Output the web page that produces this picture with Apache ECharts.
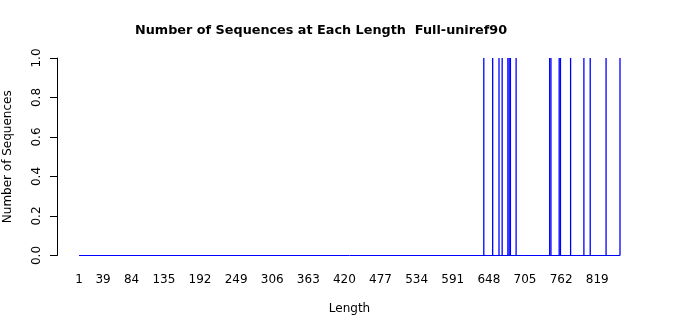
<!DOCTYPE html>
<html>
<head>
<meta charset="utf-8">
<script src="https://cdn.jsdelivr.net/npm/echarts@6/dist/echarts.min.js"></script>
<style>html,body{margin:0;padding:0;background:#fff}#c{width:700px;height:315px}</style>
</head>
<body>
<div id="c"></div>
<script>
// Data
var titleText = 'Number of Sequences at Each Length  Full-uniref90';
var minLength = 1;
var maxLength = 855;
var seqLengths = [640, 654, 664, 669, 678, 680, 682, 691, 744, 746, 759, 761, 777, 798, 808, 833, 855];
var seqCounts  = [1, 1, 1, 1, 1, 1, 1, 1, 1, 1, 1, 1, 1, 1, 1, 1, 1];
var xTickLabels = [1, 39, 84, 135, 192, 249, 306, 363, 420, 477, 534, 591, 648, 705, 762, 819];

var font = 'DejaVu Sans';
var chart = echarts.init(document.getElementById('c'), null, {renderer: 'canvas'});
var barData = seqLengths.map(function (l, i) { return [l, seqCounts[i]]; });
chart.setOption({
  animation: false,
  backgroundColor: '#ffffff',
  title: {
    text: titleText, left: 130, top: 19,
    textStyle: {fontFamily: font, fontWeight: 'bold', fontSize: 12.8, color: '#000'}
  },
  grid: {left: 79, right: 80, top: 58, bottom: 59.5, outerBoundsMode: 'none', containLabel: false},
  xAxis: {
    type: 'value', min: minLength, max: maxLength,
    name: 'Length', nameLocation: 'middle', nameGap: 47,
    nameTextStyle: {fontFamily: font, fontSize: 12, color: '#000'},
    axisLine: {show: false}, axisTick: {show: false}, splitLine: {show: false},
    axisLabel: {customValues: xTickLabels, margin: 18, fontFamily: font, fontSize: 12, color: '#000',
      showMinLabel: true, showMaxLabel: true}
  },
  yAxis: {
    type: 'value', min: 0, max: 1, interval: 0.2, offset: 22,
    name: 'Number of Sequences', nameLocation: 'middle', nameGap: 43,
    nameTextStyle: {fontFamily: font, fontSize: 12, color: '#000'},
    axisLine: {show: true, lineStyle: {color: '#000', width: 1}},
    axisTick: {show: true, length: 7, lineStyle: {color: '#000'}},
    splitLine: {show: false},
    axisLabel: {rotate: 90, margin: 14, fontFamily: font, fontSize: 12, color: '#000',
      formatter: function (v) { return v.toFixed(1); }}
  },
  series: [
    {type: 'line', data: [[minLength, 0], [maxLength, 0]], symbol: 'none',
      lineStyle: {color: '#0000ff', width: 1}, z: 2},
    {type: 'bar', data: barData, barWidth: 1.3, itemStyle: {color: '#0000ff'}, z: 3}
  ]
});
</script>
</body>
</html>
